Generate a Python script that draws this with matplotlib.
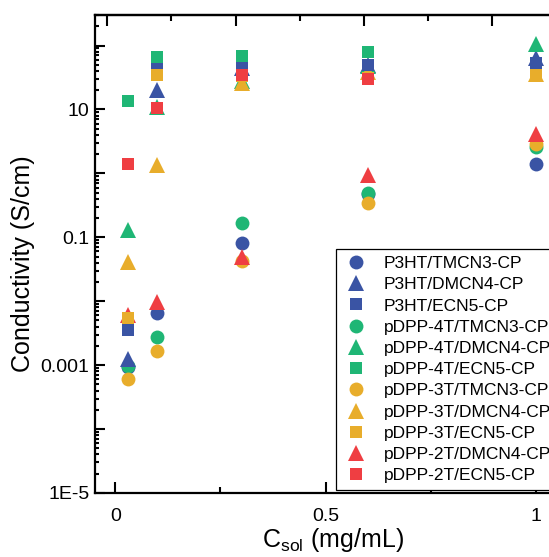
import numpy as np
import matplotlib
matplotlib.use('Agg')
import matplotlib.pyplot as plt
from matplotlib.ticker import LogLocator, NullFormatter, FixedLocator

plt.rcParams['font.family'] = ['Liberation Sans', 'DejaVu Sans']
plt.rcParams['mathtext.fontset'] = 'custom'
plt.rcParams['mathtext.rm'] = 'Liberation Sans'
plt.rcParams['mathtext.it'] = 'Liberation Sans:italic'

# solution concentration (mg/mL)
c_sol = [0.03, 0.1, 0.3, 0.6, 1.0]

# conductivity (S/cm), nan = not measured / not visible
p3ht_tmcn3 = [0.00093, 0.0065, 0.081, 0.48, 1.38]
p3ht_dmcn4 = [0.00124, 20.5, 45, 50, 63]
p3ht_ecn5 = [0.0036, 47, 49, 50, 54]
dpp4t_tmcn3 = [0.00096, 0.0028, 0.166, 0.5, 2.55]
dpp4t_dmcn4 = [0.129, 11, 28, 47, 104]
dpp4t_ecn5 = [13.8, 67, 68, 78, np.nan]
dpp3t_tmcn3 = [0.0006, 0.00167, 0.042, 0.35, 2.84]
dpp3t_dmcn4 = [0.041, 1.33, 26, 38, 36]
dpp3t_ecn5 = [0.0054, 35, 33, 31, 35]
dpp2t_dmcn4 = [0.006, 0.0096, 0.05, 0.93, 4.2]
dpp2t_ecn5 = [1.38, 10.4, 34, 29.5, np.nan]

blue = '#3a54a4'
green = '#1fb675'
yellow = '#e8ad2b'
red = '#ef3e42'

series = [
    (p3ht_tmcn3, 'P3HT/TMCN3-CP', blue, 'o'),
    (p3ht_dmcn4, 'P3HT/DMCN4-CP', blue, '^'),
    (p3ht_ecn5, 'P3HT/ECN5-CP', blue, 's'),
    (dpp4t_tmcn3, 'pDPP-4T/TMCN3-CP', green, 'o'),
    (dpp4t_dmcn4, 'pDPP-4T/DMCN4-CP', green, '^'),
    (dpp4t_ecn5, 'pDPP-4T/ECN5-CP', green, 's'),
    (dpp3t_tmcn3, 'pDPP-3T/TMCN3-CP', yellow, 'o'),
    (dpp3t_dmcn4, 'pDPP-3T/DMCN4-CP', yellow, '^'),
    (dpp3t_ecn5, 'pDPP-3T/ECN5-CP', yellow, 's'),
    (dpp2t_dmcn4, 'pDPP-2T/DMCN4-CP', red, '^'),
    (dpp2t_ecn5, 'pDPP-2T/ECN5-CP', red, 's'),
]
msize = {'o': 10, '^': 11.5, 's': 9}
zord = {'o': 2.0, '^': 2.3, 's': 2.6}

fig = plt.figure(figsize=(5.49, 5.57), dpi=100)
ax = fig.add_axes([0.173, 0.115, 0.85, 0.858])

for i, (vals, lab, col, mk) in enumerate(series):
    ax.plot(c_sol, vals, linestyle='none', marker=mk, color=col,
            markersize=msize[mk], markeredgewidth=0, label=lab,
            zorder=zord[mk] + i * 0.01, clip_on=False)

ax.set_yscale('log')
ax.set_ylim(1e-5, 300)
ax.set_xlim(-0.048, 1.06)

ax.set_yticks([1e-5, 1e-4, 1e-3, 1e-2, 1e-1, 1, 10, 100],
              labels=['1E-5', '', '0.001', '', '0.1', '', '10', ''])
ax.yaxis.set_minor_locator(LogLocator(base=10, subs=np.arange(2, 10)))
ax.yaxis.set_minor_formatter(NullFormatter())

ax.set_xticks([0, 0.5, 1], labels=['0', '0.5', '1'])
ax.xaxis.set_minor_locator(FixedLocator([0.25, 0.75]))

ax.tick_params(which='both', direction='in', top=False, right=False,
               width=1.5, labelsize=14)
ax.tick_params(axis='y', which='major', length=7.5, pad=4)
ax.tick_params(axis='y', which='minor', length=3)
ax.tick_params(axis='x', which='major', length=8, pad=11)
ax.tick_params(axis='x', which='minor', length=4)

for sp in ax.spines.values():
    sp.set_linewidth(1.6)

# top axis carries its own tick set
top = ax.secondary_xaxis('top')
top_major = -0.019 + 0.3048 * np.arange(4)
top_minor = top_major[:3] + 0.1524
top.set_xticks(top_major)
top.set_xticks(top_minor, minor=True)
top.tick_params(which='both', direction='in', labeltop=False, width=1.5)
top.tick_params(which='major', length=8)
top.tick_params(which='minor', length=4)
top.spines['top'].set_linewidth(1.6)

ax.set_xlabel(r'C$_{\mathrm{sol}}$ (mg/mL)', fontsize=18)
ax.set_ylabel('Conductivity (S/cm)', fontsize=18)
ax.yaxis.set_label_coords(-0.128, 0.48)
ax.xaxis.set_label_coords(0.51, -0.07)

leg = ax.legend(loc='upper left', bbox_to_anchor=(0.612, 0.553),
                bbox_transform=fig.transFigure, borderaxespad=0,
                fontsize=12.5, frameon=True, fancybox=False,
                edgecolor='black', framealpha=1, handlelength=1.5,
                handletextpad=0.85, labelspacing=0.35, borderpad=0.4)
leg.get_frame().set_linewidth(0.9)
leg.set_zorder(10)

fig.savefig('out.png', dpi=100)
